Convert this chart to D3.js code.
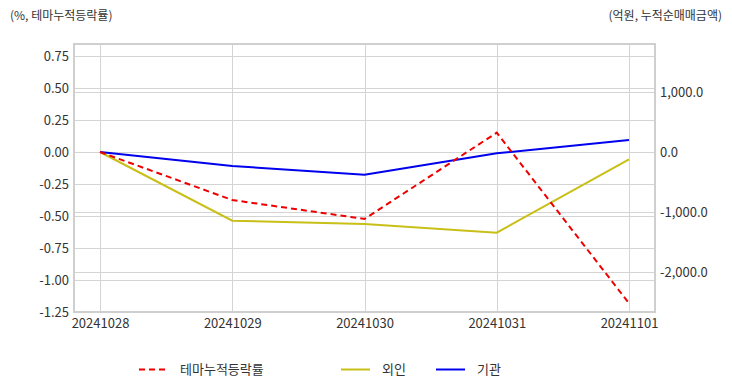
<!DOCTYPE html>
<html>
<head>
<meta charset="utf-8">
<script src="https://cdn.jsdelivr.net/npm/d3@7"></script>
<style>
  body { margin: 0; background: #fff; }
  text { font-family: "Noto Sans CJK KR", "Noto Sans", sans-serif; fill: #333; }
</style>
</head>
<body>
<svg id="chart"></svg>
<script>
var width = 732;
var height = 392;
var plot = {left: 74, right: 655, top: 44, bottom: 312};

var dates = ["20241028", "20241029", "20241030", "20241031", "20241101"];
var themeRate = [0.00, -0.375, -0.523, 0.151, -1.182];   // %, left axis
var foreign = [0, -1145, -1200, -1345, -122];            // 억원, right axis
var institution = [0, -233, -378, -22, 200];             // 억원, right axis
var leftTicks = [-1.25, -1.00, -0.75, -0.50, -0.25, 0.00, 0.25, 0.50, 0.75];
var rightTicks = [-2000, -1000, 0, 1000];

var svg = d3.select("#chart").attr("width", width).attr("height", height);

var x = d3.scalePoint()
    .domain(dates)
    .range([plot.left, plot.right])
    .padding(0.1966);

var yL = d3.scaleLinear()
    .domain([-1.25, 0.84375])
    .range([plot.bottom, plot.top]);

var yR = d3.scaleLinear()
    .domain([-2667, 1800])
    .range([plot.bottom, plot.top]);

var grid = svg.append("g").attr("stroke", "#d4d4d4").attr("stroke-width", 1);

// horizontal gridlines, both axes
leftTicks.forEach(function (t) {
    grid.append("line")
        .attr("x1", plot.left).attr("x2", plot.right)
        .attr("y1", Math.round(yL(t)) + 0.5).attr("y2", Math.round(yL(t)) + 0.5);
});
rightTicks.forEach(function (t) {
    grid.append("line")
        .attr("x1", plot.left).attr("x2", plot.right)
        .attr("y1", Math.round(yR(t)) + 0.5).attr("y2", Math.round(yR(t)) + 0.5);
});
dates.forEach(function (d) {
    grid.append("line")
        .attr("x1", Math.round(x(d)) + 0.5).attr("x2", Math.round(x(d)) + 0.5)
        .attr("y1", plot.top).attr("y2", plot.bottom);
});

svg.append("rect")
    .attr("x", plot.left).attr("y", plot.top)
    .attr("width", plot.right - plot.left).attr("height", plot.bottom - plot.top)
    .attr("fill", "none").attr("stroke", "#cfcfcf").attr("stroke-width", 2);

// left axis
var leftAxis = d3.axisLeft(yL).tickValues(leftTicks).tickSize(0).tickPadding(5);
var gL = svg.append("g").attr("transform", "translate(" + plot.left + ",0)").call(leftAxis);
gL.select(".domain").remove();
gL.selectAll("text").style("font-size", "13px").attr("fill", "#333")
    .text(function (d) { return d3.format(".2f")(d).replace("−", "-"); });

// right axis
var rightAxis = d3.axisRight(yR).tickValues(rightTicks).tickSize(0).tickPadding(5);
var gR = svg.append("g").attr("transform", "translate(" + plot.right + ",0)").call(rightAxis);
gR.select(".domain").remove();
gR.selectAll("text").style("font-size", "13px").attr("fill", "#333")
    .text(function (d) { return d3.format(",.1f")(d).replace("−", "-"); });

// x axis
var xAxis = d3.axisBottom(x).tickSize(0).tickPadding(7);
var gX = svg.append("g").attr("transform", "translate(0," + plot.bottom + ")").call(xAxis);
gX.select(".domain").remove();
gX.selectAll("text").style("font-size", "13px").attr("fill", "#333");

// lines
var lineL = d3.line().x(function (d, i) { return x(dates[i]); }).y(function (d) { return yL(d); });
var lineR = d3.line().x(function (d, i) { return x(dates[i]); }).y(function (d) { return yR(d); });

svg.append("path").datum(foreign).attr("d", lineR)
    .attr("fill", "none").attr("stroke", "#c8bf17").attr("stroke-width", 2);
svg.append("path").datum(institution).attr("d", lineR)
    .attr("fill", "none").attr("stroke", "#0000ee").attr("stroke-width", 2);
svg.append("path").datum(themeRate).attr("d", lineL)
    .attr("fill", "none").attr("stroke", "#ee0000").attr("stroke-width", 2)
    .attr("stroke-dasharray", "6,4");

// axis titles
svg.append("text").attr("x", 10).attr("y", 20).style("font-size", "12px").text("(%, 테마누적등락률)");
svg.append("text").attr("x", 722).attr("y", 20).attr("text-anchor", "end").style("font-size", "12px").text("(억원, 누적순매매금액)");

// legend
var legend = [
    {name: "테마누적등락률", color: "#ee0000", dash: "6,4", x: 139},
    {name: "외인", color: "#c8bf17", dash: null, x: 341},
    {name: "기관", color: "#0000ee", dash: null, x: 436}
];
var lg = svg.append("g");
legend.forEach(function (d) {
    lg.append("line")
        .attr("x1", d.x).attr("x2", d.x + 29).attr("y1", 369.5).attr("y2", 369.5)
        .attr("stroke", d.color).attr("stroke-width", 2)
        .attr("stroke-dasharray", d.dash);
    lg.append("text").attr("x", d.x + 41).attr("y", 374).style("font-size", "13px").text(d.name);
});
</script>
</body>
</html>
